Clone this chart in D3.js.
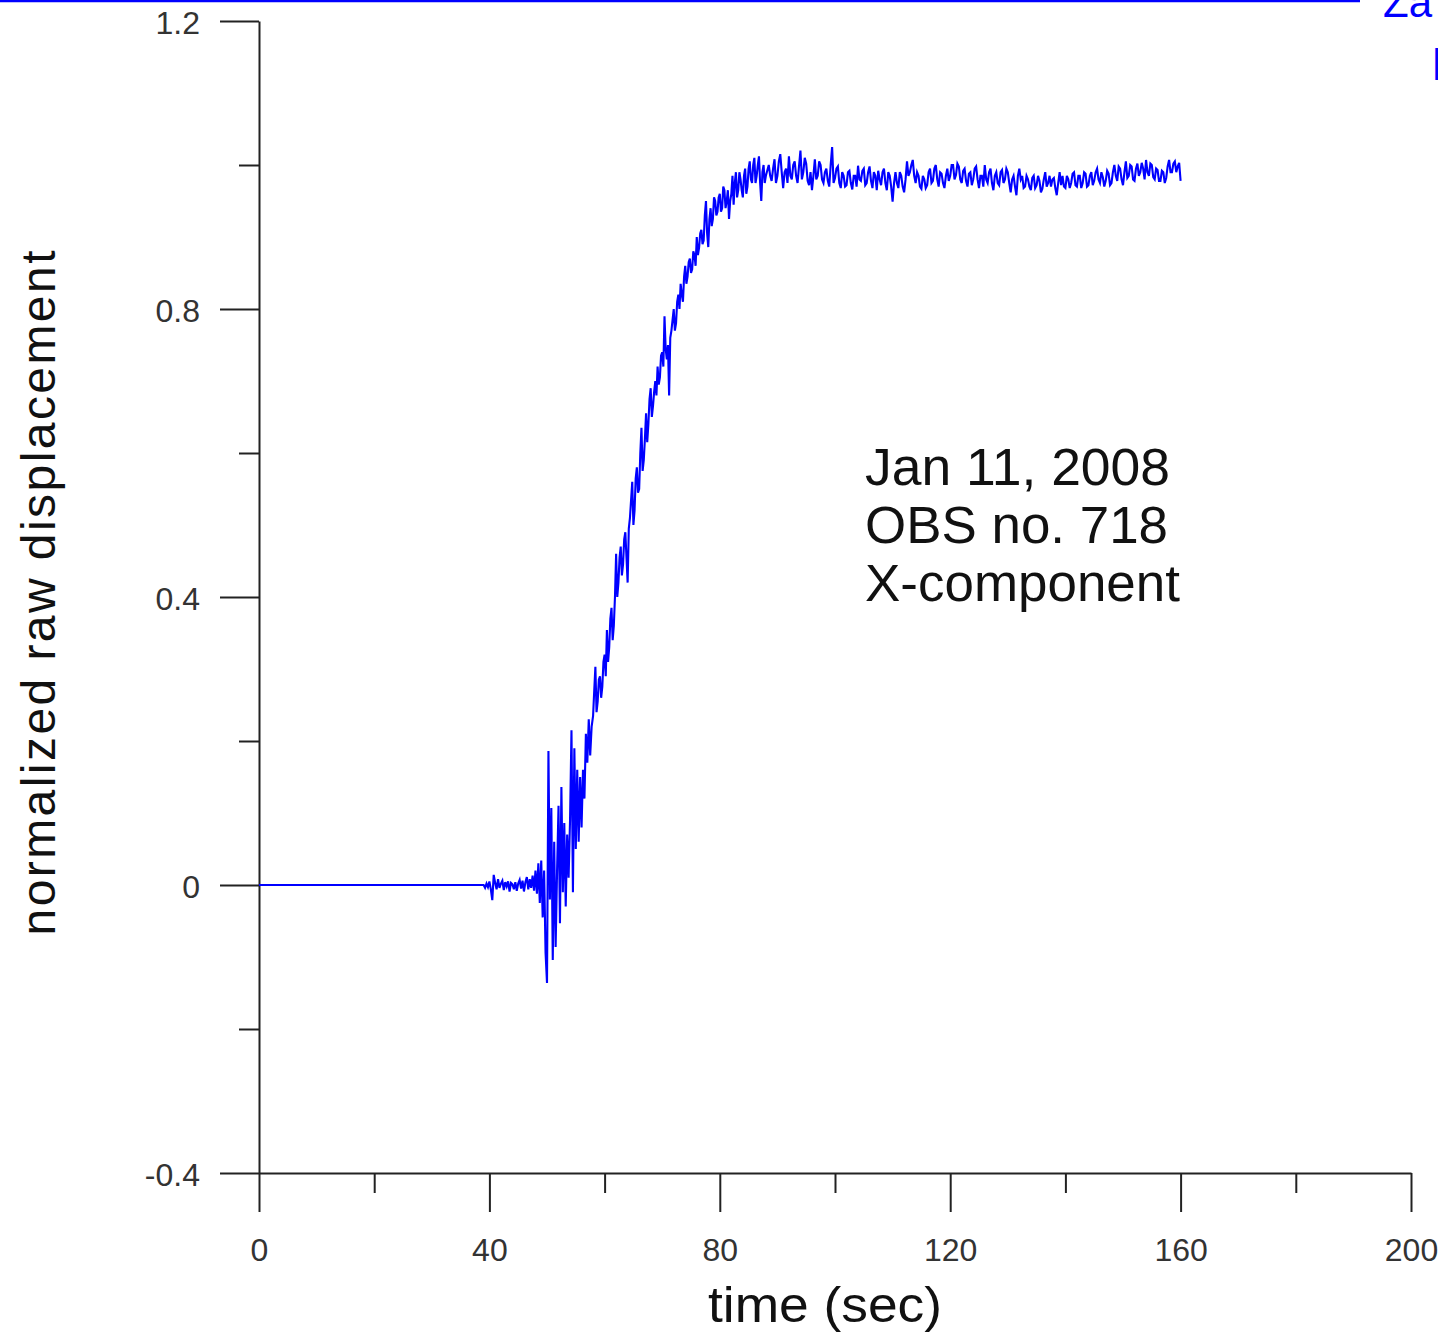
<!DOCTYPE html>
<html>
<head>
<meta charset="utf-8">
<script src="https://cdn.jsdelivr.net/npm/d3@7"></script>
<style>
  html, body { margin: 0; padding: 0; background: #ffffff; }
  svg { display: block; font-family: "Liberation Sans", Arial, sans-serif; }
</style>
</head>
<body>
<svg id="chart" width="1438" height="1336"></svg>
<script>
// ---- axis ticks ----
const xMajorTicks = [0, 40, 80, 120, 160, 200];
const xMinorTicks = [20, 60, 100, 140, 180];
const yMajorTicks = [-0.4, 0, 0.4, 0.8, 1.2];
const yMajorLabels = ["-0.4", "0", "0.4", "0.8", "1.2"];
const yMinorTicks = [-0.2, 0.2, 0.6, 1.0];

// ---- normalized raw displacement record ----
// quiet record before the first arrival
const quietTimes = [0, 38.9];
const quietValues = [0, 0];

// first arrivals, one sample every 0.25 s from 39.0 s
const onsetStart = 39.0, onsetStep = 0.25;
const onsetValues = [
  0, -0.004, 0.002, -0.003, 0.005, -0.006, -0.021, 0.014,
  0.003, -0.006, 0.008, -0.004, 0.002, 0.006, -0.007, 0.004,
  -0.002, 0.005, -0.009, 0.003, 0.001, -0.006, 0.004, -0.008,
  0.002, 0.007, -0.005, 0.006, -0.009, 0.004, 0.011, -0.006,
  0.008, -0.004, 0.013, -0.008, 0.02, -0.012, 0.03, -0.025,
  0.034, -0.045, 0.02, -0.094, -0.136, 0.186, -0.02, 0.107,
  -0.104, 0.06, -0.086, 0.02, 0.11, -0.053, 0.136, -0.01,
  0.086, -0.03, 0.07, 0.01, 0.09, 0.215, -0.01, 0.19,
  0.05, 0.16, 0.06, 0.15, 0.08, 0.16, 0.12, 0.21,
  0.17, 0.23, 0.18, 0.22
];

// main rise, one sample every 0.2 s from 58.0 s
const riseStart = 58.0, riseStep = 0.2;
const riseValues = [
  0.235, 0.27, 0.303, 0.24, 0.255, 0.285, 0.29, 0.26, 0.275, 0.31,
  0.32, 0.29, 0.354, 0.31, 0.33, 0.37, 0.385, 0.34, 0.36, 0.40,
  0.46, 0.40, 0.42, 0.455, 0.47, 0.43, 0.445, 0.48, 0.49, 0.455,
  0.42, 0.495, 0.51, 0.535, 0.56, 0.50, 0.52, 0.565, 0.58, 0.545,
  0.55, 0.60, 0.635, 0.575, 0.59, 0.62, 0.655, 0.615, 0.64, 0.675,
  0.69, 0.65, 0.665, 0.685, 0.70, 0.68, 0.72, 0.695, 0.705, 0.735,
  0.74, 0.72, 0.79, 0.745, 0.73, 0.75, 0.68, 0.76, 0.77, 0.785,
  0.80, 0.77, 0.78, 0.81, 0.82, 0.80, 0.835, 0.82, 0.81, 0.845,
  0.86, 0.835, 0.845, 0.865, 0.87, 0.85, 0.855, 0.88, 0.875, 0.86,
  0.90, 0.875, 0.885, 0.905, 0.91, 0.89, 0.895, 0.93, 0.95, 0.905,
  0.886, 0.925, 0.94, 0.915, 0.925, 0.955, 0.95, 0.93, 0.935, 0.955,
  0.96, 0.935, 0.94, 0.97, 0.965, 0.94, 0.95, 0.965, 0.925, 0.95,
  0.96, 0.985, 0.945, 0.975, 0.99, 0.955, 0.965, 0.99, 0.98, 0.965,
  0.955, 0.985, 0.995, 0.96, 0.97, 0.995, 1.005, 0.98, 0.975, 1.0,
  1.01, 0.975, 0.985, 1.0, 1.012, 0.975, 0.95, 0.99, 1.0, 0.975,
  0.985
];

// static offset plateau, one sample every 0.25 s from 88.5 s
const plateauStart = 88.5, plateauStep = 0.25;
const plateauValues = [
  1.0, 0.985, 0.978, 0.995, 1.008, 0.975, 0.985, 1.005, 1.015, 0.99,
  0.968, 0.99, 0.995, 0.975, 1.012, 0.985, 0.98, 1.0, 1.005, 0.985,
  0.975, 0.998, 1.02, 0.98, 0.99, 1.01, 1.002, 0.978, 0.972, 0.99,
  0.965, 0.985, 1.008, 0.98, 0.985, 1.005, 1.0, 0.98, 0.975, 0.99,
  0.995, 0.978, 0.97, 1.0, 1.025, 0.975, 0.982, 0.995, 0.998, 0.975,
  0.968, 0.99, 0.985, 0.97, 0.972, 0.99, 0.992, 0.975, 0.966, 0.985,
  0.985, 0.97, 0.999, 0.98, 0.978, 0.992, 0.995, 0.972, 0.975, 0.99,
  0.998, 0.978, 0.968, 0.99, 0.985, 0.965, 0.992, 0.98, 0.972, 0.99,
  0.995, 0.975, 0.965, 0.99, 0.985, 0.97, 0.949, 0.975, 0.99, 0.975,
  0.968, 0.99, 0.985, 0.97, 0.962, 0.98, 1.005, 0.985, 0.99, 1.0,
  1.007, 0.985, 0.975, 0.99, 0.985, 0.97, 0.967, 0.985, 0.98, 0.968,
  0.972, 0.99, 0.995, 0.975, 0.978, 0.995, 1.0, 0.98, 0.97, 0.99,
  0.988, 0.975, 0.968, 0.985, 0.995, 0.978, 0.985, 1.0, 1.0, 0.98,
  0.986, 1.002, 0.998, 0.98, 0.975, 0.992, 0.995, 0.978, 0.97, 0.988,
  0.99, 0.972, 0.98, 0.995, 0.998, 0.98, 0.968, 0.985, 0.985, 0.97,
  1.0, 0.98, 0.975, 0.99, 0.995, 0.975, 0.965, 0.985, 0.99, 0.975,
  0.972, 0.99, 0.993, 0.975, 0.98, 0.995, 0.99, 0.975, 0.962, 0.98,
  0.985, 0.97, 0.958, 0.985, 0.995, 0.98, 0.985, 0.968, 0.97, 0.985,
  0.98, 0.97, 0.965, 0.982, 0.985, 0.968, 0.972, 0.985, 0.978, 0.962,
  0.967, 0.98, 0.99, 0.97, 0.975, 0.985, 0.97, 0.98, 0.982, 0.968,
  0.958, 0.975, 0.99, 0.972, 0.985, 0.97, 0.968, 0.985, 0.98, 0.968,
  0.975, 0.988, 0.99, 0.972, 0.97, 0.985, 0.985, 0.968, 0.975, 0.99,
  0.988, 0.97, 0.972, 0.985, 0.99, 0.972, 0.978, 0.99, 0.995, 0.98,
  0.975, 0.99, 0.983, 0.97, 0.978, 0.992, 0.988, 0.972, 0.975, 0.99,
  1.0, 0.985, 0.978, 0.998, 0.995, 0.98, 0.972, 0.99, 1.005, 0.982,
  0.985, 1.0, 0.998, 0.98, 0.978, 0.995, 1.002, 0.985, 0.99, 1.003,
  0.995, 0.98, 1.007, 0.99, 0.985, 1.002, 1.0, 0.983, 0.98, 0.995,
  0.993, 0.978, 0.978, 0.992, 0.99, 0.975, 0.982, 0.998, 1.007, 0.99,
  0.99, 1.002, 1.005, 0.99, 0.998, 1.003, 0.978
];

const annotationLines = ["Jan 11, 2008", "OBS no. 718", "X-component"];
const xTitle = "time (sec)";
const yTitle = "normalized raw displacement";

// ---- assemble the record as (t, v) pairs ----
const record = [];
quietTimes.forEach((t, i) => record.push({ t, v: quietValues[i] }));
onsetValues.forEach((v, i) => record.push({ t: onsetStart + i * onsetStep, v }));
riseValues.forEach((v, i) => record.push({ t: riseStart + i * riseStep, v }));
plateauValues.forEach((v, i) => record.push({ t: plateauStart + i * plateauStep, v }));

// ---- layout ----
const svg = d3.select("#chart");
const x = d3.scaleLinear().domain([0, 200]).range([259, 1411]);
const y = d3.scaleLinear().domain([-0.4, 1.2]).range([1173, 21]);

const axisColor = "#222";
const labelColor = "#333";
const traceColor = "#0000ff";

// page header remnants (rule and link text running off the page)
svg.append("line")
  .attr("x1", 0).attr("x2", 1360).attr("y1", 1).attr("y2", 1)
  .attr("stroke", traceColor).attr("stroke-width", 2.5);
svg.append("text")
  .attr("x", 1383).attr("y", 17)
  .attr("font-size", 42).attr("fill", traceColor)
  .text("Za");
svg.append("text")
  .attr("x", 1431).attr("y", 80)
  .attr("font-size", 46).attr("fill", traceColor)
  .text("I");

function styleAxis(g) {
  g.selectAll(".domain").attr("stroke", axisColor).attr("stroke-width", 2);
  g.selectAll(".tick line").attr("stroke", axisColor).attr("stroke-width", 2);
  g.selectAll(".tick text")
    .attr("fill", labelColor)
    .attr("font-size", 32)
    .attr("font-family", "\"Liberation Sans\", Arial, sans-serif");
}

// x axis: long labelled ticks plus short minor ticks
const gx = svg.append("g").attr("transform", "translate(0,1173)")
  .call(d3.axisBottom(x).tickValues(xMajorTicks).tickSize(39).tickSizeOuter(0)
        .tickPadding(26).tickFormat(d3.format("d")));
styleAxis(gx);
const gxMinor = svg.append("g").attr("transform", "translate(0,1173)")
  .call(d3.axisBottom(x).tickValues(xMinorTicks).tickSize(20).tickSizeOuter(0).tickFormat(""));
gxMinor.select(".domain").remove();
styleAxis(gxMinor);

// y axis
const gy = svg.append("g").attr("transform", "translate(259,0)")
  .call(d3.axisLeft(y).tickValues(yMajorTicks).tickSize(39).tickSizeOuter(0)
        .tickPadding(20).tickFormat((d, i) => yMajorLabels[i]));
styleAxis(gy);
gy.selectAll(".tick text").attr("dy", "0.38em");
const gyMinor = svg.append("g").attr("transform", "translate(259,0)")
  .call(d3.axisLeft(y).tickValues(yMinorTicks).tickSize(20).tickSizeOuter(0).tickFormat(""));
gyMinor.select(".domain").remove();
styleAxis(gyMinor);

// axis titles
svg.append("text")
  .attr("x", 825).attr("y", 1322)
  .attr("text-anchor", "middle")
  .attr("font-size", 50).attr("fill", "#111")
  .attr("textLength", 234).attr("lengthAdjust", "spacingAndGlyphs")
  .text(xTitle);
svg.append("text")
  .attr("transform", "translate(55,593) rotate(-90)")
  .attr("text-anchor", "middle")
  .attr("font-size", 48).attr("fill", "#111")
  .attr("textLength", 685).attr("lengthAdjust", "spacing")
  .text(yTitle);

// displacement trace
const line = d3.line().x(d => x(d.t)).y(d => y(d.v));
svg.append("path")
  .datum(record)
  .attr("fill", "none")
  .attr("stroke", traceColor)
  .attr("stroke-width", 2.1)
  .attr("stroke-linejoin", "miter")
  .attr("d", line);

// event annotation, one line per entry, stretched to the set widths
const noteWidths = [305, 303, 315];
const note = svg.append("g");
note.selectAll("text").data(annotationLines).join("text")
  .attr("x", 865)
  .attr("y", (d, i) => 485 + i * 58)
  .attr("font-size", 51).attr("fill", "#111")
  .attr("textLength", (d, i) => noteWidths[i])
  .attr("lengthAdjust", "spacingAndGlyphs")
  .text(d => d);
</script>
</body>
</html>
